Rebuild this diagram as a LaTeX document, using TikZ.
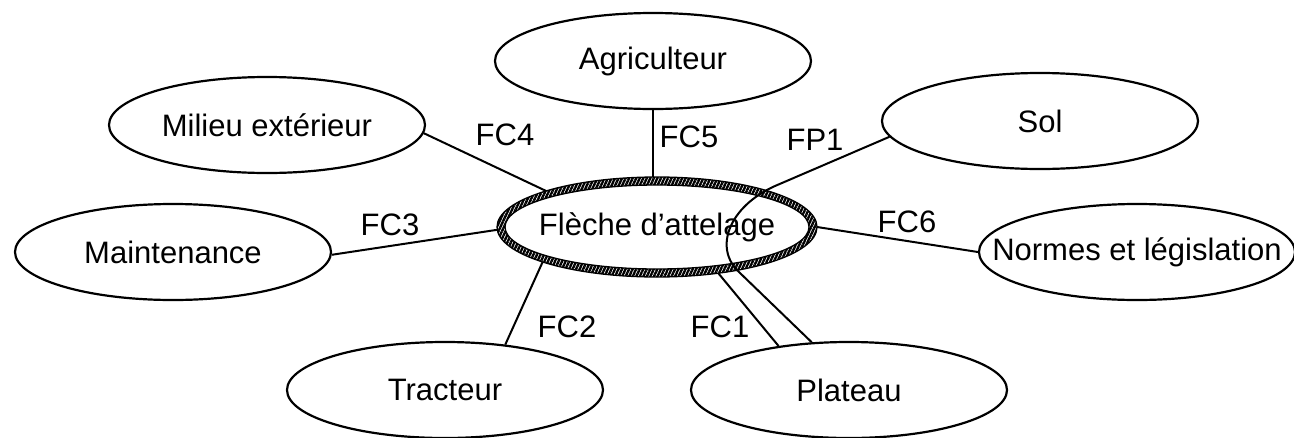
\documentclass[tikz,border=0pt]{standalone}
\usepackage{fontspec}
\setmainfont{Liberation Sans}
\usetikzlibrary{shapes.geometric,patterns.meta}
\begin{document}
\begin{tikzpicture}[x=1pt,y=-1pt,
  every node/.style={font=\fontsize{31}{36}\selectfont},
  box/.style={ellipse,draw,line width=2.2pt,minimum width=316pt,minimum height=96pt,inner sep=0pt},
  hub/.style={ellipse,minimum width=320pt,minimum height=100pt,inner sep=0pt,outer sep=0pt},
  link/.style={line width=2pt},
  lbl/.style={inner sep=0pt}]
\useasboundingbox (0,0) rectangle (1294,437);
% peripheral ellipses
\node[box] (ag)  at (653,61)  {\makebox[0pt]{Agriculteur}};
\node[box] (mil) at (267,125) {\makebox[0pt]{Milieu extérieur}};
\node[box] (sol) at (1040,121){\makebox[0pt]{Sol}};
\node[box] (mnt) at (173,252) {\makebox[0pt]{Maintenance}};
\node[box] (nrm) at (1137,252){\makebox[0pt]{Normes et législation}};
\node[box] (tr)  at (445,390) {\makebox[0pt]{Tracteur}};
\node[box] (pl)  at (849,390) {\makebox[0pt]{Plateau}};
% central hatched ellipse
\node[hub] (fl) at (657,227) {\makebox[0pt]{Flèche d’attelage}};
\fill[pattern={Lines[angle=65,distance=3.2pt,line width=2.4pt]},even odd rule]
  (fl.center) ellipse [x radius=160,y radius=50]
  (fl.center) ellipse [x radius=152,y radius=42];
\draw[line width=1.3pt] (fl.center) ellipse [x radius=160,y radius=50];
\draw[line width=1.3pt] (fl.center) ellipse [x radius=152,y radius=42];
% connectors
\draw[link] (mil.-3) -- (fl.162);
\draw[link] (mnt.-1) -- (fl.181);
\draw[link] (ag.south) -- (ag.south |- fl.north);
\draw[link] (fl.0) -- (nrm.180);
\draw[link] (fl.197) -- (tr.37);
\draw[link] (fl.-37) -- (pl.148);
\coordinate (fpa) at (775,186);
\coordinate (fpb) at (740,273);
\draw[link] (sol.186) -- (fpa) .. controls (730,206) and (712,248) .. (fpb) -- (pl.128);
% labels
\node[lbl] (l4) at (505,135) {FC4};
\node[lbl] (l3) at (390,225) {FC3};
\node[lbl] (l5) at (689,137) {FC5};
\node[lbl] (lp) at (815,140) {FP1};
\node[lbl] (l6) at (907,222) {FC6};
\node[lbl] (l2) at (567,327) {FC2};
\node[lbl] (l1) at (720,327) {FC1};
\end{tikzpicture}
\end{document}
